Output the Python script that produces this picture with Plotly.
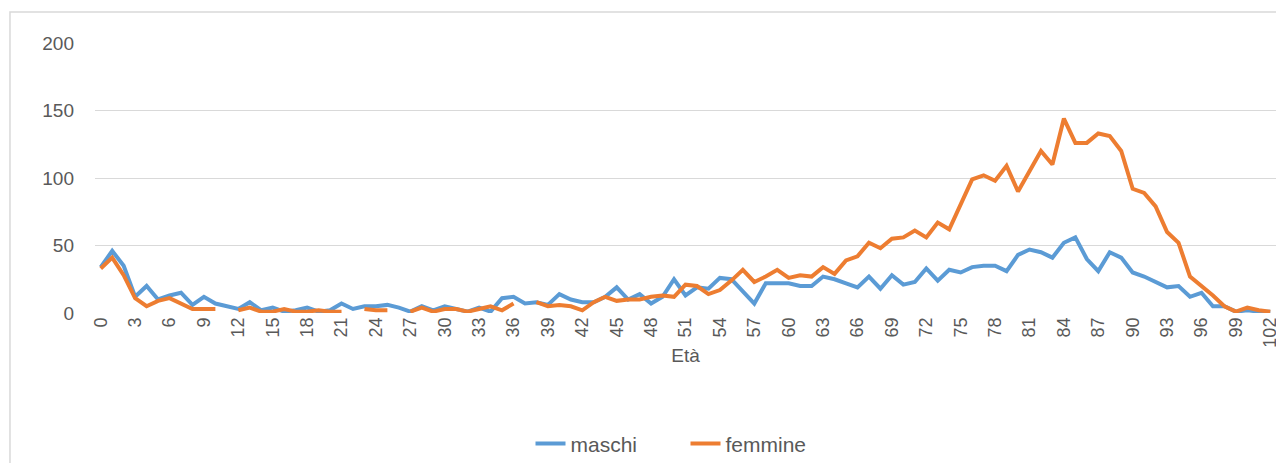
import plotly.graph_objs as go

# età 0..102
ages = list(range(0, 103))

maschi = [
    34, 46, 35, 12, 20, 10, 13, 15, 6, 12,
    7, 5, 3, 8, 2, 4, 1, 2, 4, 1,
    2, 7, 3, 5, 5, 6, 4, 1, 5, 2,
    5, 3, 1, 4, 1, 11, 12, 7, 8, 6,
    14, 10, 8, 8, 12, 19, 10, 14, 7, 12,
    25, 13, 19, 18, 26, 25, 16, 7, 22, 22,
    22, 20, 20, 27, 25, 22, 19, 27, 18, 28,
    21, 23, 33, 24, 32, 30, 34, 35, 35, 31,
    43, 47, 45, 41, 52, 56, 40, 31, 45, 41,
    30, 27, 23, 19, 20, 12, 15, 5, 5, 1,
    2, 1, 1,
]

femmine = [
    33, 41, 28, 11, 5, 9, 11, 7, 3, 3,
    3, None, 2, 4, 1, 1, 3, 1, 1, 2,
    1, 1, None, 3, 2, 2, None, 1, 4, 1,
    3, 3, 1, 3, 5, 2, 7, None, 8, 5,
    6, 5, 2, 8, 12, 9, 10, 10, 12, 13,
    12, 21, 20, 14, 17, 24, 32, 23, 27, 32,
    26, 28, 27, 34, 29, 39, 42, 52, 48, 55,
    56, 61, 56, 67, 62, 80, 99, 102, 98, 109,
    90, 105, 120, 110, 144, 126, 126, 133, 131, 120,
    92, 89, 79, 60, 52, 27, 20, 13, 5, 1,
    4, 2, 1,
]

y_ticks = [0, 50, 100, 150, 200]
x_ticks = list(range(0, 103, 3))

FONT = "Liberation Sans"
GREY = "#595959"

fig = go.Figure()
fig.add_trace(go.Scatter(x=ages, y=maschi, name="maschi", mode="lines",
                         line=dict(color="#5B9BD5", width=4), connectgaps=False))
fig.add_trace(go.Scatter(x=ages, y=femmine, name="femmine", mode="lines",
                         line=dict(color="#ED7D31", width=4), connectgaps=False))

# the page body has an 8px margin, so the figure is 8px smaller each way
fig.update_layout(
    width=1276, height=455,
    margin=dict(l=87, r=8, t=35, b=150, autoexpand=False),
    paper_bgcolor="white", plot_bgcolor="white",
    font=dict(family=FONT, color=GREY, size=17),
    showlegend=True,
    legend=dict(orientation="h", x=0.5, xanchor="center", y=-0.485, yanchor="middle",
                font=dict(size=21, color=GREY), entrywidth=110, entrywidthmode="pixels"),
    xaxis=dict(
        range=[-0.5, 102.5], tickvals=x_ticks, ticktext=[str(t) for t in x_ticks],
        tickangle=-90, showgrid=False, zeroline=False, showline=False,
        ticks="", tickfont=dict(size=18, color=GREY), automargin=False,
        title=dict(text="Età", font=dict(size=19, color=GREY), standoff=2),
    ),
    yaxis=dict(
        range=[0, 200], tickvals=y_ticks, showgrid=True, gridcolor="#d9d9d9",
        gridwidth=1, zeroline=False, showline=False, ticks="", automargin=False,
        tickfont=dict(size=19, color=GREY), ticklabelstandoff=20,
    ),
    shapes=[dict(type="rect", xref="paper", yref="paper",
                 x0=-0.072, x1=1.2, y0=-1.0, y1=1.115,
                 line=dict(color="#d9d9d9", width=1.5), layer="below")],
)

fig.write_html("out.html")
